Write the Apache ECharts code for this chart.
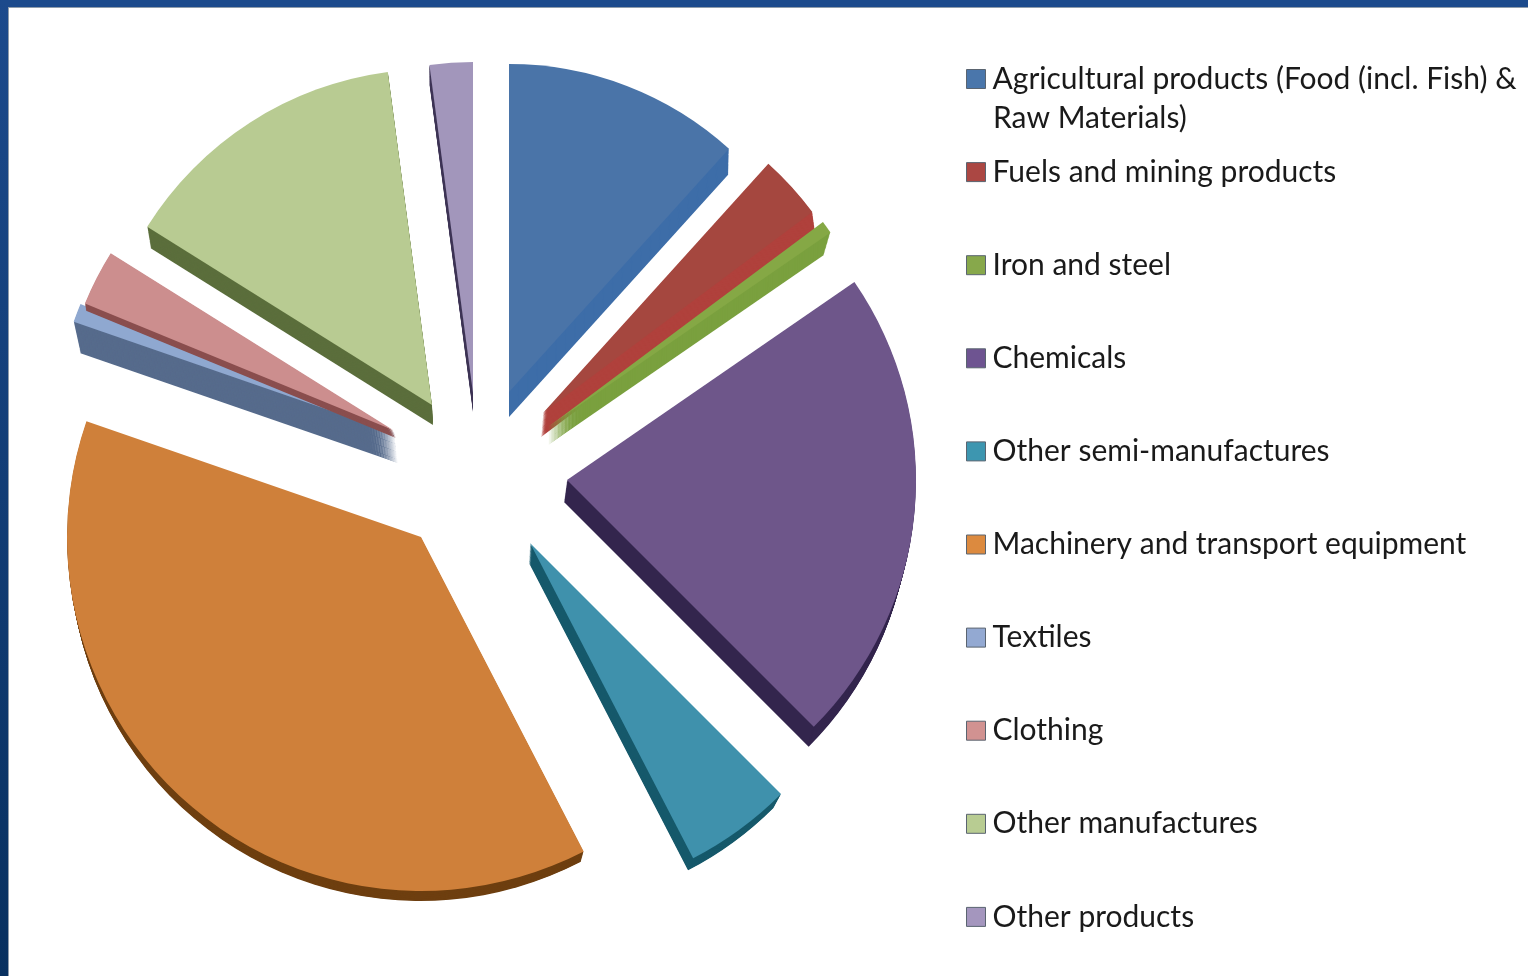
<!DOCTYPE html>
<html>
<head>
<meta charset="utf-8">
<title>Pie</title>
<style>
html,body{margin:0;padding:0;background:#fff;overflow:hidden}
#main{width:1528px;height:976px}
</style>
<script src="https://cdn.jsdelivr.net/npm/echarts@6/dist/echarts.min.js"></script>
</head>
<body>
<div id="main"></div>
<script>
var categories = ['Agricultural products (Food (incl. Fish) & Raw Materials)','Fuels and mining products','Iron and steel','Chemicals','Other semi-manufactures','Machinery and transport equipment','Textiles','Clothing','Other manufactures','Other products'];
var shares = [11.7,3.1,0.6,22.1,4.9,37.9,0.9,2.7,14.0,2.1];
var legendColors = ['#4a76ab','#ab4743','#87a84b','#6e5491','#3d96b0','#dc8a3f','#93a9d2','#d19291','#b8cc92','#a496be'];

// top face and side face colours
var topColors = ['#4a74a8','#a5473f','#85a845','#6e568a','#3f91ac','#cf803a','#8fa8d0','#cc8e8e','#b8cb92','#a296bb'];
var sideColors = ['#3d6da8','#b0413c','#7aa03e','#33254d','#16596b','#6e3f10','#566b8c','#8a4e4e','#5b6e3c','#3f3556'];

// every slice is pulled out on its own
var topCenters = [[509,392],[543,413],[548,427],[567,480],[530,543],[421,537],[395,433],[393,430],[432,405],[473,393]];
var topRadius = [328,336,343,349,355,354,340,333,336,331];
var sideCenters = [[509,417],[541,437],[548,445],[564,502],[529,563],[420,551],[398,463],[396,438],[433,425],[473,412]];
var sideRadius = [327,342,335,346,346,350,336,335,333,330];

var series = [];
var total = 0;
for(var i=0;i<shares.length;i++){
	total += shares[i];
}
function sliceSeries(center,radius,startAngle,value,color,name){
	return {
		type:'pie',
		silent:true,
		clockwise:true,
		center:center,
		radius:[0,radius],
		startAngle:startAngle,
		label:{show:false},
		labelLine:{show:false},
		emphasis:{disabled:true},
		data:[
			{name:name,value:value,itemStyle:{color:color}},
			{name:'',value:total-value,itemStyle:{color:'transparent'}}
		]
	};
}
var sum = 0;
for(var i=0;i<shares.length;i++){
	var start = 90 - sum/total*360;
	// side face: sweep the slice from its bottom position up to the top face
	var dx = topCenters[i][0]-sideCenters[i][0];
	var dy = topCenters[i][1]-sideCenters[i][1];
	var steps = Math.ceil(Math.sqrt(dx*dx+dy*dy));
	for(var j=0;j<steps;j++){
		var t = j/steps;
		var c = [sideCenters[i][0]+dx*t,sideCenters[i][1]+dy*t];
		var r = sideRadius[i]+(topRadius[i]-sideRadius[i])*t;
		series.push(sliceSeries(c,r,start,shares[i],sideColors[i],' '));
	}
	series.push(sliceSeries(topCenters[i],topRadius[i],start,shares[i],topColors[i],categories[i]));
	sum += shares[i];
}

var legendData = [];
for(var i=0;i<categories.length;i++){
	legendData.push({
		name:categories[i],
		itemStyle:{color:legendColors[i],borderColor:'#5a6470',borderWidth:1}
	});
}

var fontName = 'Lato';
var myChart = echarts.init(document.getElementById('main'));
myChart.setOption({
	animation:false,
	backgroundColor:'#fff',
	legend:{
		orient:'vertical',
		left:966,
		top:63,
		padding:0,
		icon:'rect',
		itemWidth:19,
		itemHeight:19,
		itemGap:61.1,
		selectedMode:false,
		data:legendData,
		formatter:function(name){
			return name == categories[0] ? 'Agricultural products (Food (incl. Fish) &' : name;
		},
		textStyle:{fontFamily:fontName,fontSize:30,lineHeight:30,color:'#1a1a1a',padding:[2,0,0,2]}
	},
	graphic:[
		{type:'rect',z:10,shape:{x:0,y:0,width:1528,height:7},style:{fill:'#1c4a8c'}},
		{type:'rect',z:10,shape:{x:0,y:7,width:1528,height:1},style:{fill:'#8f9cab'}},
		{type:'rect',z:10,shape:{x:8,y:7,width:1,height:969},style:{fill:'#8f9cab'}},
		{type:'rect',z:10,shape:{x:0,y:0,width:8,height:976},style:{fill:new echarts.graphic.LinearGradient(0,0,0,1,[{offset:0,color:'#1c4a8c'},{offset:1,color:'#08305f'}])}},
		{type:'text',left:993,top:103,style:{text:'Raw Materials)',fontFamily:fontName,fontSize:30,fill:'#1a1a1a'}}
	],
	series:series
});
</script>
</body>
</html>
